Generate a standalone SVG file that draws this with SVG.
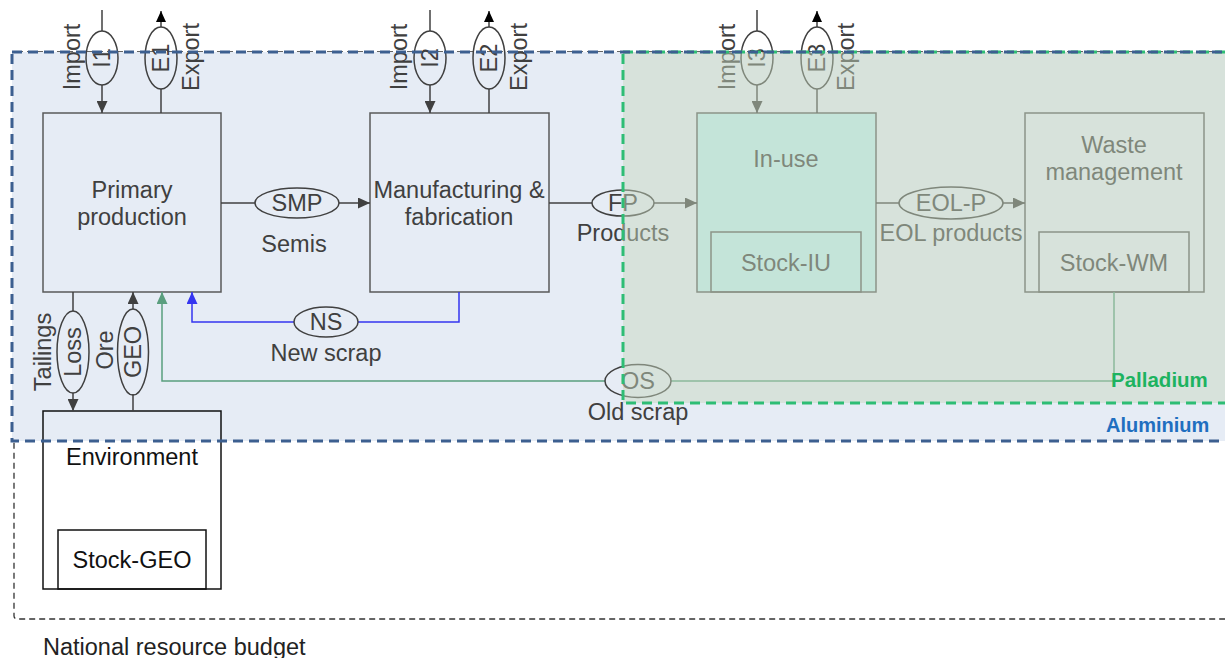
<svg xmlns="http://www.w3.org/2000/svg" width="1225" height="658" viewBox="0 0 1225 658">
<defs>
<style>
text{font-family:"Liberation Sans",Arial,sans-serif;font-size:23.5px;fill:#404040;}
.c{text-anchor:middle;}
.m{text-anchor:middle;dominant-baseline:central;}
.box{fill:none;stroke:#595959;stroke-width:1.5;}
.ell{fill:none;stroke:#404040;stroke-width:1.5;}
.ln{fill:none;stroke:#404040;stroke-width:1.5;}
.blk{fill:none;stroke:#111;stroke-width:1.5;}
</style>
<marker id="aG" viewBox="0 0 12 11" refX="12" refY="5.5" markerWidth="12" markerHeight="11" markerUnits="userSpaceOnUse" orient="auto"><path d="M0,0 L12,5.5 L0,11 z" fill="#404040"/></marker>
<marker id="aK" viewBox="0 0 12 11" refX="12" refY="5.5" markerWidth="11" markerHeight="10" markerUnits="userSpaceOnUse" orient="auto"><path d="M0,0 L12,5.5 L0,11 z" fill="#000"/></marker>
<marker id="aB" viewBox="0 0 12 11" refX="12" refY="5.5" markerWidth="12" markerHeight="11" markerUnits="userSpaceOnUse" orient="auto"><path d="M0,0 L12,5.5 L0,11 z" fill="#3535F0"/></marker>
<marker id="aN" viewBox="0 0 12 11" refX="12" refY="5.5" markerWidth="12" markerHeight="11" markerUnits="userSpaceOnUse" orient="auto"><path d="M0,0 L12,5.5 L0,11 z" fill="#5A9E7E"/></marker>
</defs>
<rect x="0" y="0" width="1225" height="658" fill="#fff"/>
<g id="national-budget">
<rect x="14" y="52" width="1225" height="567" rx="3" fill="none" stroke="#333" stroke-width="1.3" stroke-dasharray="6,4"/>
<text x="43" y="655" style="fill:#222">National resource budget</text>
</g>
<g id="aluminium-fill"><rect x="12" y="52" width="1225" height="389" fill="#E6ECF5"/></g>

<g id="primary-production">
<rect class="box" x="43" y="113" width="178" height="179"/>
<text class="c" x="132" y="198">Primary</text>
<text class="c" x="132" y="225">production</text>
</g>
<g id="manufacturing">
<rect class="box" x="370" y="113" width="179" height="179"/>
<text class="c" x="459" y="198">Manufacturing &amp;</text>
<text class="c" x="459" y="225">fabrication</text>
</g>
<g id="in-use">
<rect class="box" x="697" y="113" width="179" height="179" style="fill:#C2F0F2"/>
<text class="c" x="786" y="167">In-use</text>
<rect class="box" x="711" y="232" width="150" height="60"/>
<text class="c" x="786" y="271">Stock-IU</text>
</g>
<g id="waste-management">
<rect class="box" x="1025" y="113" width="179" height="179"/>
<text class="c" x="1114" y="153">Waste</text>
<text class="c" x="1114" y="180">management</text>
<rect class="box" x="1039" y="232" width="150" height="60"/>
<text class="c" x="1114" y="271">Stock-WM</text>
</g>
<g id="environment">
<rect class="blk" x="43" y="411" width="178" height="178"/>
<text class="c" x="132" y="465" style="fill:#111">Environment</text>
<rect class="blk" x="58" y="530" width="148" height="59"/>
<text class="c" x="132" y="568" style="fill:#111">Stock-GEO</text>
</g>

<g id="connectors">
<path class="ln" d="M102,10 V31"/>
<path class="ln" d="M102,85 V113" marker-end="url(#aG)"/>
<ellipse class="ell" cx="102" cy="58" rx="16" ry="27"/>
<path class="ln" d="M161,113 V89"/>
<path class="ln" d="M161,27 V11" marker-end="url(#aK)"/>
<ellipse class="ell" cx="161" cy="58" rx="16" ry="31"/>
<path class="ln" d="M430,10 V31"/>
<path class="ln" d="M430,85 V113" marker-end="url(#aG)"/>
<ellipse class="ell" cx="430" cy="58" rx="16" ry="27"/>
<path class="ln" d="M489,113 V89"/>
<path class="ln" d="M489,27 V11" marker-end="url(#aK)"/>
<ellipse class="ell" cx="489" cy="58" rx="16" ry="31"/>
<path class="ln" d="M757,10 V31"/>
<path class="ln" d="M757,85 V113" marker-end="url(#aG)"/>
<ellipse class="ell" cx="757" cy="58" rx="16" ry="27"/>
<path class="ln" d="M817,113 V89"/>
<path class="ln" d="M817,27 V11" marker-end="url(#aK)"/>
<ellipse class="ell" cx="817" cy="58" rx="16" ry="31"/>
<path class="ln" d="M221,203 H255"/>
<path class="ln" d="M339,203 H370" marker-end="url(#aG)"/>
<ellipse class="ell" cx="297" cy="203" rx="42" ry="15"/>
<path class="ln" d="M549,203 H592"/>
<path class="ln" d="M654,203 H697" marker-end="url(#aG)"/>
<ellipse class="ell" cx="623" cy="203" rx="31" ry="13"/>
<path class="ln" d="M876,203 H899"/>
<path class="ln" d="M1003,203 H1025" marker-end="url(#aG)"/>
<ellipse class="ell" cx="951" cy="203" rx="52" ry="16"/>
<path d="M459,292 V322 H358" fill="none" stroke="#3535F0" stroke-width="1.5"/>
<path d="M294,322 H192 V292" fill="none" stroke="#3535F0" stroke-width="1.5" marker-end="url(#aB)"/>
<ellipse class="ell" cx="326" cy="322" rx="32" ry="15"/>
<path d="M1114,292 V381 H671" fill="none" stroke="#5A9E7E" stroke-width="1.5"/>
<path d="M605,381 H162 V292" fill="none" stroke="#5A9E7E" stroke-width="1.5" marker-end="url(#aN)"/>
<ellipse class="ell" cx="638" cy="381" rx="33" ry="16.5"/>
<path class="ln" d="M73,292 V311"/>
<path class="ln" d="M73,393 V411" marker-end="url(#aG)"/>
<ellipse class="ell" cx="73" cy="352" rx="16" ry="41"/>
<path class="ln" d="M133,411 V394"/>
<path class="ln" d="M133,309 V292" marker-end="url(#aG)"/>
<ellipse class="ell" cx="133" cy="352" rx="15.5" ry="43"/>
</g>

<g id="flow-labels">
<text class="m" transform="translate(72,57) rotate(-90)">Import</text>
<text class="m" transform="translate(102,58) rotate(-90)">I1</text>
<text class="m" transform="translate(161,58) rotate(-90)">E1</text>
<text class="m" transform="translate(191,57) rotate(-90)">Export</text>
<text class="m" transform="translate(399,57) rotate(-90)">Import</text>
<text class="m" transform="translate(430,58) rotate(-90)">I2</text>
<text class="m" transform="translate(489,58) rotate(-90)">E2</text>
<text class="m" transform="translate(519,57) rotate(-90)">Export</text>
<text class="m" transform="translate(727,57) rotate(-90)">Import</text>
<text class="m" transform="translate(757,58) rotate(-90)">I3</text>
<text class="m" transform="translate(817,58) rotate(-90)">E3</text>
<text class="m" transform="translate(846,57) rotate(-90)">Export</text>
<text class="m" x="297" y="203">SMP</text>
<text class="c" x="294" y="252">Semis</text>
<text class="m" x="623" y="203">FP</text>
<text class="c" x="623" y="241">Products</text>
<text class="m" x="951" y="203">EOL-P</text>
<text class="c" x="951" y="241">EOL products</text>
<text class="m" x="326" y="322">NS</text>
<text class="c" x="326" y="361">New scrap</text>
<text class="m" x="638" y="381">OS</text>
<text class="c" x="638" y="420">Old scrap</text>
<text class="m" transform="translate(73,352) rotate(-90)">Loss</text>
<text class="m" transform="translate(43,352) rotate(-90)">Tailings</text>
<text class="m" transform="translate(133,352) rotate(-90)">GEO</text>
<text class="m" transform="translate(105,350) rotate(-90)">Ore</text>
</g>

<g id="palladium">
<rect x="623" y="52" width="615" height="351" fill="rgb(198,214,190)" fill-opacity="0.47" stroke="#2EBD75" stroke-width="3" stroke-dasharray="10,6"/>
</g>
<g id="aluminium-border">
<rect x="12" y="52" width="1225" height="389" fill="none" stroke="#3C5F90" stroke-width="3" stroke-dasharray="10,6"/>
</g>
<g id="region-labels">
<text x="1111" y="387" style="font-weight:bold;font-size:20.5px;fill:#1DB360">Palladium</text>
<text x="1106" y="432" style="font-weight:bold;font-size:20px;fill:#1F6FC0">Aluminium</text>
</g>
</svg>
